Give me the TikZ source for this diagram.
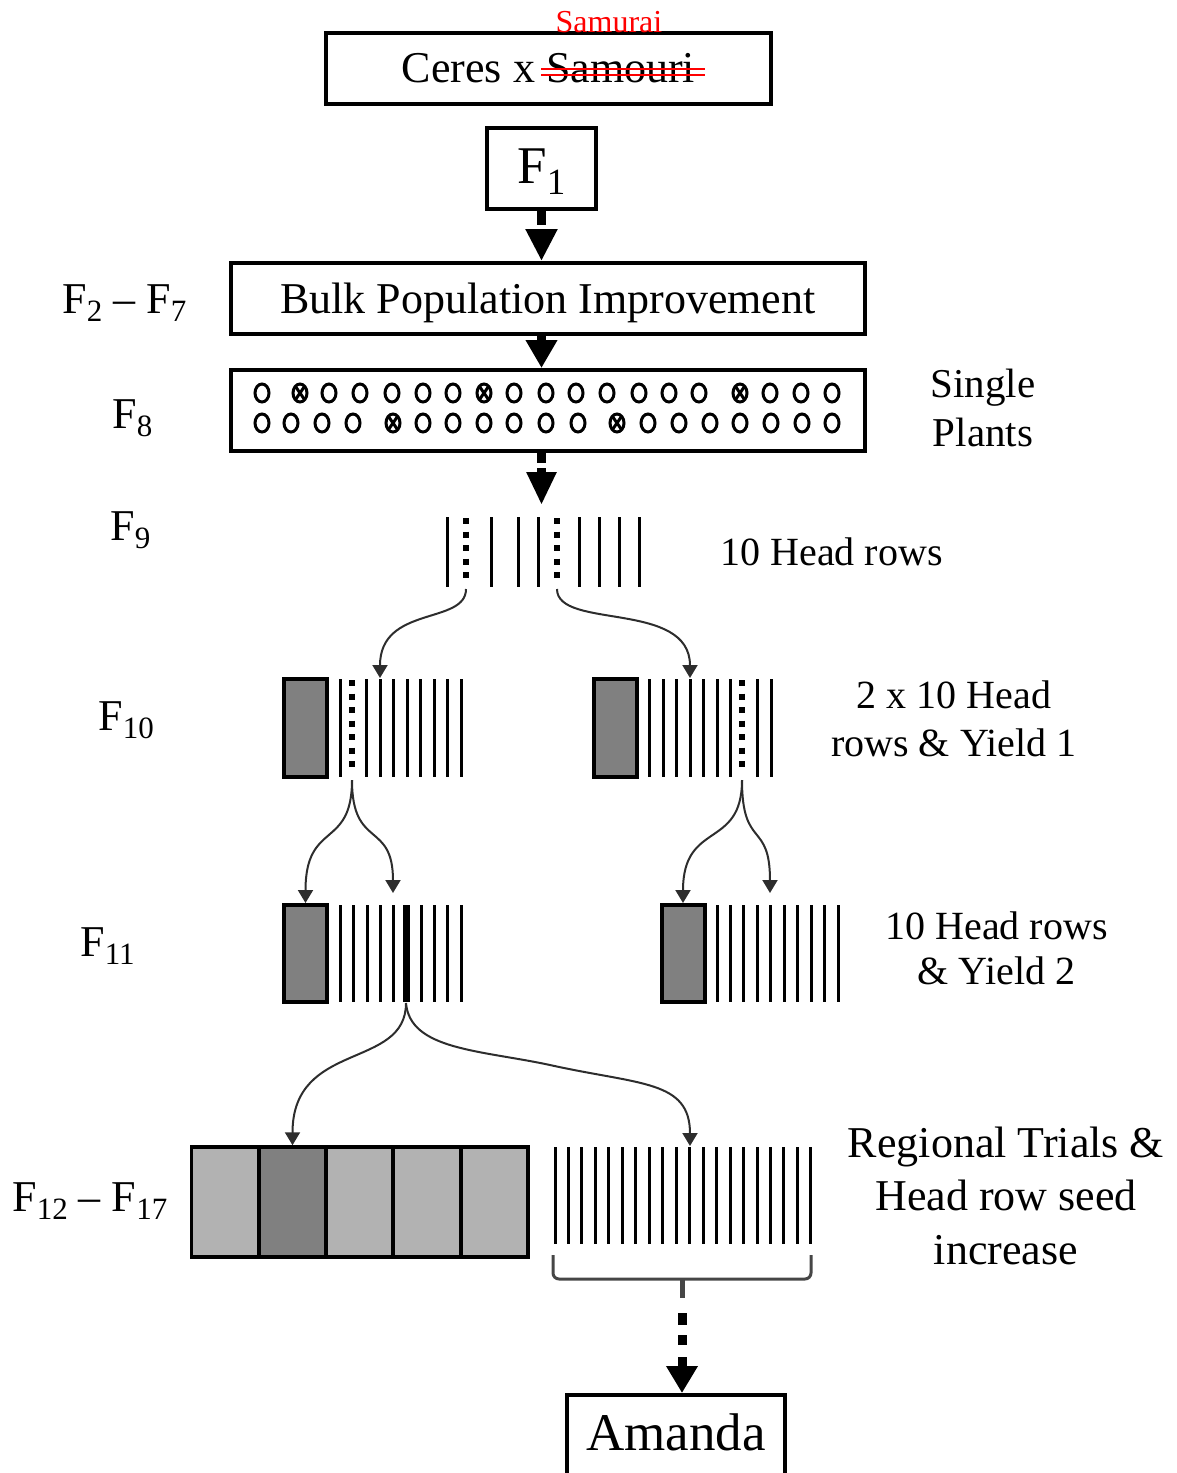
\documentclass[tikz,border=0pt]{standalone}
\usepackage{fontspec}
\setmainfont{Liberation Serif}
\usetikzlibrary{arrows.meta}
\definecolor{boxgray}{RGB}{128,128,128}
\definecolor{cellgray}{RGB}{178,178,178}
\definecolor{curvegray}{RGB}{45,45,45}
\definecolor{bracegray}{RGB}{70,70,70}
\newcommand{\Fl}[1]{F\raisebox{-4pt}{\fontsize{15.5}{16}\selectfont #1}}
\begin{document}
\begin{tikzpicture}[x={(0.5pt,0)},y={(0,-0.5pt)},
  stagebox/.style={draw,line width=2pt,inner sep=0pt,text depth=0pt},
  plotbox/.style={draw,line width=2pt,fill=boxgray,inner sep=0pt,minimum width=21.5pt},
  trialcell/.style={draw,line width=1.75pt,fill=cellgray,inner sep=0pt,minimum width=33.7pt,minimum height=55pt},
  hrow/.style={line width=1.5pt},
  dotrow/.style={line width=3pt,dash pattern=on 3pt off 3.75pt},
  bigarrow/.style={line width=4.5pt,-{Triangle[length=16pt,width=15pt]}},
  branch/.style={line width=1pt,curvegray,-{Triangle[length=6.5pt,width=7.5pt]}},
  lab/.style={inner sep=0pt,anchor=base west,font=\fontsize{22}{26}\selectfont},
  rlab/.style={inner sep=0pt,align=center,anchor=base},
  seeddot/.style={line width=1.5pt}
]
\useasboundingbox (0,0) rectangle (1177,1473);
\clip (0,0) rectangle (1177,1473);
\coordinate (axis) at (541.5,0);

% cross
\node[stagebox,minimum width=222.5pt,minimum height=35.5pt,text height=13.5pt,font=\fontsize{22}{26}\selectfont] (cross) at (548.5,68.5) {Ceres x Samouri};
\draw[red,line width=0.75pt] (541,69) -- (705,69) (541,75) -- (705,75);
\node[text=red,font=\fontsize{16}{18}\selectfont,anchor=base,inner sep=0pt] (samurai) at (609,32) {Samurai};

% F1
\node[stagebox,minimum width=54.5pt,minimum height=40.5pt,text height=14.5pt,font=\fontsize{26.5}{30}\selectfont] (f1) at (541.5,168.5) {F\raisebox{-5.5pt}{\fontsize{18.5}{20}\selectfont 1}};

% Bulk
\node[stagebox,minimum width=317pt,minimum height=35.5pt,text height=14.5pt,font=\fontsize{22}{26}\selectfont] (bulk) at (548,298.5) {Bulk Population Improvement};

% F8 plants box
\node[stagebox,minimum width=317pt,minimum height=40.5pt] (plants) at (548,410.5) {};
\foreach \x/\c in {262/0,300/1,329/0,360/0,392/0,423/0,453/0,484/1,514/0,546/0,576/0,607/0,639/0,669/0,699/0,740/1,770/0,801/0,832/0}{
  \draw[seeddot] (\x,393) ellipse (7 and 9);
  \ifnum\c=1 \draw[seeddot] (\x-4.5,386.5) -- (\x+4.5,399.5) (\x+4.5,386.5) -- (\x-4.5,399.5); \fi
}
\foreach \x/\c in {262/0,291/0,322/0,353/0,393/1,423/0,453/0,484/0,514/0,546/0,578/0,617/1,648/0,679/0,710/0,740/0,771/0,802/0,832/0}{
  \draw[seeddot] (\x,423) ellipse (7 and 9);
  \ifnum\c=1 \draw[seeddot] (\x-4.5,416.5) -- (\x+4.5,429.5) (\x+4.5,416.5) -- (\x-4.5,429.5); \fi
}

% main arrows
\draw[bigarrow,dash pattern=on 7pt off 3pt] (f1.south) -- (f1.south |- bulk.north);
\draw[bigarrow,-{Triangle[length=14pt,width=15pt]}] (bulk.south -| axis) -- (plants.north -| axis);
\coordinate (f9tip) at (541.5,505);
\draw[bigarrow,dash pattern=on 5pt off 2.5pt,-{Triangle[length=16.5pt,width=14pt]}] (plants.south -| axis) -- (f9tip);

% F9 head rows
\foreach \x in {447,491,518,538,579,599,619,639} \draw[hrow] (\x,517) -- (\x,587);
\foreach \x in {466,557} \draw[dotrow] (\x,518) -- (\x,578);
\coordinate (f9a) at (466,589);
\coordinate (f9b) at (557,589);

% F10
\node[plotbox,minimum height=49pt] (p10a) at (305.5,728) {};
\node[plotbox,minimum height=49pt] (p10b) at (615.5,728) {};
\foreach \x in {340,366,380,393,407,420,434,447,461} \draw[hrow] (\x,679) -- (\x,777);
\foreach \x in {649,663,676,690,703,717,730,757,771} \draw[hrow] (\x,679) -- (\x,777);
\draw[dotrow] (352,680) -- (352,767);
\draw[dotrow] (742,680) -- (742,767);
\coordinate (t10a) at (380,678);
\coordinate (t10b) at (690,678);
\coordinate (s10a) at (352,780);
\coordinate (s10b) at (742,780);

% F11
\node[plotbox,minimum height=48.5pt] (p11a) at (305.5,953.5) {};
\node[plotbox,minimum height=48.5pt] (p11b) at (683,953.5) {};
\foreach \x in {340,353,367,380,393,421,434,447,461} \draw[hrow] (\x,905) -- (\x,1002);
\draw[line width=3.5pt] (406,905) -- (406,1002);
\foreach \x in {717,730,743,757,770,784,797,811,824,838} \draw[hrow] (\x,905) -- (\x,1002);
\coordinate (t11a) at (393,893);
\coordinate (t11b) at (770,893);
\coordinate (s11) at (406,1003);

% F12-F17 trials
\node[trialcell] (c1) at (225,1202) {};
\node[trialcell,fill=boxgray] (c2) at (292.5,1202) {};
\node[trialcell] (c3) at (359.5,1202) {};
\node[trialcell] (c4) at (427,1202) {};
\node[trialcell] (c5) at (494.5,1202) {};
\foreach \i in {0,...,19} \draw[hrow] ({555+13.47*\i},1147) -- ({555+13.47*\i},1244);
\coordinate (t12b) at (690,1146);
\draw[bracegray,line width=1.5pt,rounded corners=3pt] (553,1255) -- (553,1279) -- (811,1279) -- (811,1255);
\coordinate (bstem) at (682,1298);
\draw[bracegray,line width=2.5pt] (682,1279) -- (bstem);

% Amanda
\node[stagebox,minimum width=109pt,minimum height=45pt,text height=10pt,font=\fontsize{26.5}{30}\selectfont] (amanda) at (676,1440) {Amanda};
\draw[bigarrow,dash pattern=on 0pt off 7.5pt on 6pt off 5pt on 5pt off 6pt on 20pt,-{Triangle[length=13.5pt,width=15pt]}] (bstem) -- (bstem |- amanda.north);

% branches
\draw[branch] (f9a) .. controls (466,625) and (380,605) .. (t10a);
\draw[branch] (f9b) .. controls (557,630) and (690,600) .. (t10b);
\draw[branch] (s10a) .. controls (352,850) and (305.5,820) .. (p11a.north);
\draw[branch] (s10a) .. controls (352,850) and (393,820) .. (t11a);
\draw[branch] (s10b) .. controls (742,850) and (683,820) .. (p11b.north);
\draw[branch] (s10b) .. controls (742,850) and (770,820) .. (t11b);
\draw[branch] (s11) .. controls (406,1070) and (292.5,1040) .. (c2.north);
\draw[branch] (s11) .. controls (410,1050) and (480,1050) .. (550,1065) .. controls (640,1085) and (690,1080) .. (t12b);

% left labels
\node[lab] (l27) at (62,313) {\Fl{2} – \Fl{7}};
\node[lab] (l8) at (112,428) {\Fl{8}};
\node[lab] (l9) at (110,540) {\Fl{9}};
\node[lab] (l10) at (98,730) {\Fl{10}};
\node[lab] (l11) at (80,956) {\Fl{11}};
\node[lab] (l1217) at (12,1211) {\Fl{12} – \Fl{17}};

% right labels (anchored at the baseline of the last line)
\node[rlab,font=\fontsize{20.5}{24.5}\selectfont] (rsingle) at (983,446) {Single\\Plants};
\node[rlab,font=\fontsize{20}{24}\selectfont] (rhead) at (831.5,565) {10 Head rows};
\node[rlab,font=\fontsize{20}{24}\selectfont] (ryield1) at (954,756) {2 x 10 Head\\rows \& Yield 1};
\node[rlab,font=\fontsize{20}{22.5}\selectfont] (ryield2) at (996.5,984) {10 Head rows\\\& Yield 2};
\node[rlab,font=\fontsize{22}{26.7}\selectfont] (rtrials) at (1006,1264) {Regional Trials \&\\Head row seed\\increase};
\end{tikzpicture}
\end{document}
